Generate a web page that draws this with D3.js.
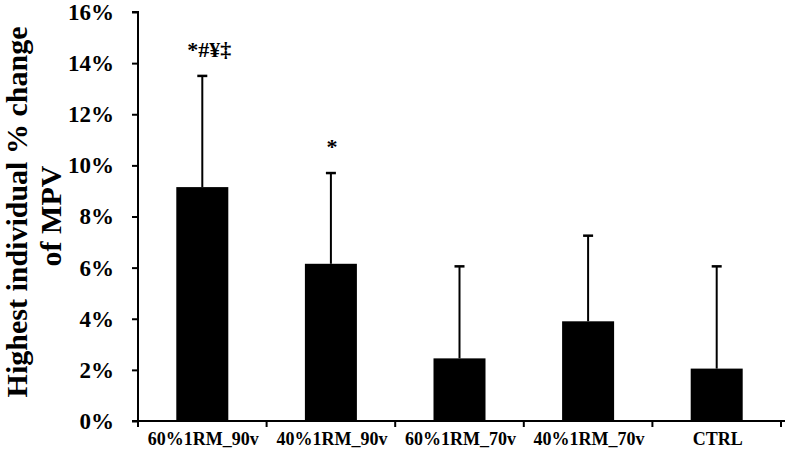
<!DOCTYPE html>
<html>
<head>
<meta charset="utf-8">
<script src="https://cdnjs.cloudflare.com/ajax/libs/d3/7.8.5/d3.min.js"></script>
<style>
  body { margin: 0; background: #fff; }
  text { font-family: "Liberation Serif", "Times New Roman", serif; font-weight: bold; }
</style>
</head>
<body>
<div id="viz"></div>
<script>
// chart data
var categories = ["60%1RM_90v", "40%1RM_90v", "60%1RM_70v", "40%1RM_70v", "CTRL"];
var means = [9.15, 6.15, 2.45, 3.9, 2.05];
var errTops = [13.5, 9.7, 6.05, 7.25, 6.05];
var marks = ["*#¥‡", "*", "", "", ""];
var yTicks = [0, 2, 4, 6, 8, 10, 12, 14, 16];

var W = 785, H = 455;
var mLeft = 138, mRight = 781, mTop = 12, mBottom = 421;

var svg = d3.select("#viz")
    .append("svg")
    .attr("width", W)
    .attr("height", H);

var x = d3.scaleBand()
    .domain(categories)
    .range([mLeft, mRight])
    .paddingInner(0)
    .paddingOuter(0);

var y = d3.scaleLinear()
    .domain([0, 16])
    .range([mBottom, mTop]);

var barW = 52;
function cx(d) { return x(d) + x.bandwidth() / 2; }

// bars
svg.selectAll("rect.bar")
    .data(categories)
    .enter().append("rect")
    .attr("class", "bar")
    .attr("x", function(d) { return cx(d) - barW / 2; })
    .attr("y", function(d, i) { return y(means[i]); })
    .attr("width", barW)
    .attr("height", function(d, i) { return y(0) - y(means[i]); })
    .style("fill", "#000");

// error bars (upper only)
var eb = svg.selectAll("g.err")
    .data(categories)
    .enter().append("g")
    .attr("class", "err");

eb.append("line")
    .attr("x1", cx)
    .attr("x2", cx)
    .attr("y1", function(d, i) { return y(means[i]); })
    .attr("y2", function(d, i) { return y(errTops[i]); })
    .style("stroke", "#000")
    .style("stroke-width", 2);

eb.append("line")
    .attr("x1", function(d) { return cx(d) - 5; })
    .attr("x2", function(d) { return cx(d) + 5; })
    .attr("y1", function(d, i) { return y(errTops[i]); })
    .attr("y2", function(d, i) { return y(errTops[i]); })
    .style("stroke", "#000")
    .style("stroke-width", 2.5);

// significance marks
svg.selectAll("text.mark")
    .data(categories)
    .enter().append("text")
    .attr("class", "mark")
    .attr("x", function(d, i) { return cx(d) + (marks[i].length > 1 ? 7 : 1); })
    .attr("y", function(d, i) { return y(errTops[i]) - 19; })
    .attr("text-anchor", "middle")
    .style("font-size", "22px")
    .text(function(d, i) { return marks[i]; });

// y axis
var yAxis = d3.axisLeft(y)
    .tickValues(yTicks)
    .tickSize(6)
    .tickPadding(18)
    .tickFormat(function(d) { return d + "%"; });

var gy = svg.append("g")
    .attr("transform", "translate(" + mLeft + ",0)")
    .call(yAxis);
gy.select(".domain").attr("d", "M-6," + mTop + "H0V" + (mBottom + 6))
    .style("stroke-width", 2);
gy.selectAll(".tick line").style("stroke-width", 2);
gy.selectAll(".tick text")
    .style("font-size", "23px")
    .style("fill", "#000");

// x axis
var gx = svg.append("g")
    .attr("transform", "translate(0," + mBottom + ")");
gx.append("line")
    .attr("x1", mLeft - 6)
    .attr("x2", mRight + 4)
    .attr("y1", 0)
    .attr("y2", 0)
    .style("stroke", "#000")
    .style("stroke-width", 2);

var edges = categories.map(function(d) { return x(d); }).concat([mRight]);
gx.selectAll("line.edge")
    .data(edges)
    .enter().append("line")
    .attr("class", "edge")
    .attr("x1", function(d) { return d; })
    .attr("x2", function(d) { return d; })
    .attr("y1", 0)
    .attr("y2", 6)
    .style("stroke", "#000")
    .style("stroke-width", 2);

gx.selectAll("text.cat")
    .data(categories)
    .enter().append("text")
    .attr("class", "cat")
    .attr("x", function(d) { return cx(d) + 1; })
    .attr("y", 24)
    .attr("text-anchor", "middle")
    .style("font-size", "18px")
    .text(function(d) { return d; });

// y title
var yt = svg.append("text")
    .attr("transform", "translate(27," + 212 + ") rotate(-90)")
    .attr("text-anchor", "middle")
    .style("font-size", "30px");
yt.append("tspan").attr("x", 0).attr("dy", 0).text("Highest individual % change");
yt.append("tspan").attr("x", -4).attr("dy", 34).text("of MPV");
</script>
</body>
</html>
